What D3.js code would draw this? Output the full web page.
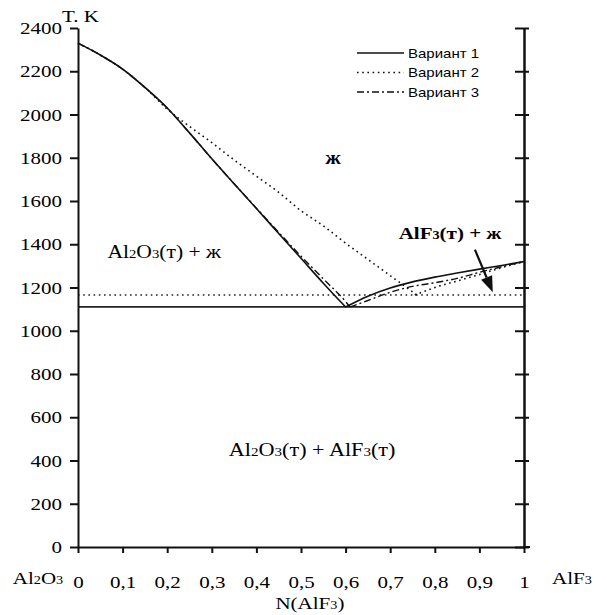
<!DOCTYPE html>
<html><head><meta charset="utf-8">
<script src="https://cdn.jsdelivr.net/npm/d3@7"></script>
<style>body{margin:0;background:#fff}svg{display:block}</style>
</head><body>
<svg id="c" width="607" height="615"></svg>
<script>
// ---- data ----
const xTicks = [0,0.1,0.2,0.3,0.4,0.5,0.6,0.7,0.8,0.9,1];
const yTicks = [0,200,400,600,800,1000,1200,1400,1600,1800,2000,2200,2400];
const seriesNames = ["Вариант 1","Вариант 2","Вариант 3"];
// Variant 1 (solid)
const v1LeftX = [0,0.05,0.1,0.15,0.2,0.25,0.3,0.35,0.4,0.45,0.5,0.55,0.6];
const v1LeftT = [2330,2275,2210,2125,2030,1915,1795,1680,1565,1450,1335,1220,1110];
const v1RightX = [0.6,0.65,0.7,0.75,0.8,0.85,0.9,0.95,1];
const v1RightT = [1110,1160,1198,1226,1248,1267,1285,1302,1320];
const v1Eutectic = 1110;
// Variant 2 (dotted)
const v2LeftX = [0,0.05,0.1,0.15,0.2,0.25,0.3,0.35,0.4,0.45,0.5,0.55,0.6,0.65,0.7,0.76];
const v2LeftT = [2330,2275,2210,2125,2025,1945,1870,1790,1715,1640,1555,1485,1405,1330,1255,1165];
const v2RightX = [0.755,0.8,0.85,0.9,0.95,1];
const v2RightT = [1165,1200,1230,1260,1292,1320];
const v2Eutectic = 1165;
// Variant 3 (dash-dot)
const v3LeftX = [0,0.05,0.1,0.15,0.2,0.25,0.3,0.35,0.4,0.45,0.5,0.55,0.6,0.61];
const v3LeftT = [2330,2275,2210,2125,2030,1915,1795,1680,1567,1455,1345,1240,1135,1110];
const v3RightX = [0.61,0.65,0.7,0.75,0.8,0.85,0.9,0.95,1];
const v3RightT = [1110,1140,1178,1205,1222,1242,1270,1296,1320];

// ---- layout ----
const svg = d3.select("#c");
const L = 78, R = 524, T = 28, B = 547;
const x = d3.scaleLinear().domain([0,1]).range([L,R]);
const y = d3.scaleLinear().domain([0,2400]).range([B,T]);
const SX = 1.2; // horizontal text stretch seen in the reference
const serif = "'Liberation Serif','Times New Roman',serif";
const sans = "'Liberation Sans',Arial,sans-serif";

function stext(px, py, anchor, size, family, parts){
  const t = svg.append("text")
    .attr("transform", `translate(${px},${py}) scale(${SX},1)`)
    .attr("text-anchor", anchor)
    .attr("font-family", family).attr("font-size", size).attr("fill","#000");
  parts.forEach(p=>{
    if (typeof p === "string") t.append("tspan").text(p);
    else t.append("tspan").attr("font-size", size*0.68).text(p.sub);
  });
  return t;
}

const zip = (xs, ts) => xs.map((v,i)=>[v, ts[i]]);
const line = d3.line().x(d=>x(d[0])).y(d=>y(d[1])).curve(d3.curveMonotoneX);

const styles = [
  {dash:null, w:1.6},
  {dash:"1.6,3.6", w:1.6},
  {dash:"7,3,2,3", w:1.4}
];

// eutectic lines
svg.append("line").attr("x1",x(0)).attr("x2",x(1)).attr("y1",y(v1Eutectic)).attr("y2",y(v1Eutectic))
  .attr("stroke","#222").attr("stroke-width",1.8);
svg.append("line").attr("x1",x(0)).attr("x2",x(1)).attr("y1",y(v2Eutectic)).attr("y2",y(v2Eutectic))
  .attr("stroke","#222").attr("stroke-width",1.6).attr("stroke-dasharray","1.6,3.6");

// curves
const curves = [
  [zip(v1LeftX,v1LeftT), 0],[zip(v1RightX,v1RightT), 0],
  [zip(v2LeftX,v2LeftT), 1],[zip(v2RightX,v2RightT), 1],
  [zip(v3LeftX,v3LeftT), 2],[zip(v3RightX,v3RightT), 2]
];
curves.forEach(([d,s])=>{
  svg.append("path").attr("d", line(d)).attr("fill","none")
    .attr("stroke","#111").attr("stroke-width", styles[s].w)
    .attr("stroke-dasharray", styles[s].dash);
});

// axes
const axW = 2;
const gl = svg.append("g").attr("transform",`translate(${L},0)`)
  .call(d3.axisLeft(y).tickValues(yTicks).tickSize(8).tickSizeOuter(0).tickPadding(8).tickFormat(d3.format("d")));
gl.selectAll("text").attr("transform",`scale(${SX},1)`).attr("x", -16/SX)
  .attr("font-family",serif).attr("font-size",17.5).attr("fill","#000");

const gb = svg.append("g").attr("transform",`translate(0,${B})`)
  .call(d3.axisBottom(x).tickValues(xTicks).tickSize(6).tickSizeOuter(0).tickPadding(23)
    .tickFormat(d => String(d).replace(".",",")));
gb.selectAll("text").attr("transform",`scale(${SX},1)`)
  .attr("font-family",serif).attr("font-size",17.5).attr("fill","#000");

const gr1 = svg.append("g").attr("transform",`translate(${R},0)`)
  .call(d3.axisRight(y).tickValues(yTicks).tickSize(5).tickSizeOuter(0).tickFormat(""));
const gr2 = svg.append("g").attr("transform",`translate(${R},0)`)
  .call(d3.axisLeft(y).tickValues(yTicks).tickSize(9).tickSizeOuter(0).tickFormat(""));
// extend bottom axis a bit past right axis
svg.append("line").attr("x1",R).attr("x2",R+6).attr("y1",B).attr("y2",B).attr("stroke","#111").attr("stroke-width",axW);

[gl,gb,gr1,gr2].forEach(g=>{
  g.selectAll("path.domain").attr("stroke","#111").attr("stroke-width",axW);
  g.selectAll(".tick line").attr("stroke","#111").attr("stroke-width",axW);
});

// axis titles / end labels
stext(62, 22, "start", 17.5, serif, ["T. K"]);
stext(38, 584, "middle", 17.5, serif, ["Al",{sub:"2"},"O",{sub:"3"}]);
stext(572, 584, "middle", 17.5, serif, ["AlF",{sub:"3"}]);
stext(x(0.52), 609, "middle", 17.5, serif, ["N(AlF",{sub:"3"},")"]);

// region labels
stext(x(0.572), y(1772), "middle", 18, serif, ["ж"]).attr("font-weight","bold");
stext(x(0.066), y(1338), "start", 18, serif, ["Al",{sub:"2"},"O",{sub:"3"},"(т) + ж"]);
stext(x(0.719), y(1424), "start", 17.5, serif, ["AlF",{sub:"3"},"(т) + ж"]).attr("font-weight","bold");
stext(x(0.338), y(420), "start", 18.5, serif, ["Al",{sub:"2"},"O",{sub:"3"},"(т) + AlF",{sub:"3"},"(т)"]);

// arrow
const a0 = [x(0.89), y(1375)], a1 = [x(0.93), y(1178)];
const ang = Math.atan2(a1[1]-a0[1], a1[0]-a0[0]);
const hl = 16, hw = 6;
const base = [a1[0]-hl*Math.cos(ang), a1[1]-hl*Math.sin(ang)];
svg.append("line").attr("x1",a0[0]).attr("y1",a0[1]).attr("x2",base[0]).attr("y2",base[1])
  .attr("stroke","#111").attr("stroke-width",2.2);
svg.append("path").attr("d", d3.line()([
  a1,
  [base[0]+hw*Math.sin(ang), base[1]-hw*Math.cos(ang)],
  [base[0]-hw*Math.sin(ang), base[1]+hw*Math.cos(ang)]
]) + "Z").attr("fill","#111");

// legend
const lg = svg.append("g");
seriesNames.forEach((n,i)=>{
  const ly = 53 + i*19.5;
  lg.append("line").attr("x1",357).attr("x2",404).attr("y1",ly).attr("y2",ly)
    .attr("stroke","#111").attr("stroke-width",styles[i].w).attr("stroke-dasharray",styles[i].dash);
  stext(408, ly+4.5, "start", 12.5, sans, [n]);
});
</script>
</body></html>
